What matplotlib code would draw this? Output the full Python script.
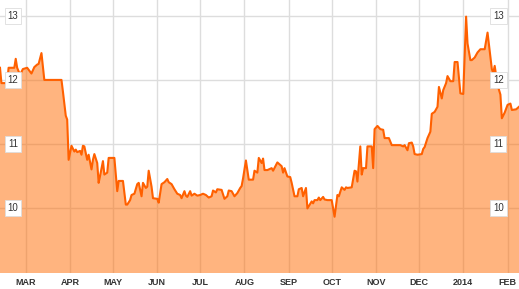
import matplotlib
matplotlib.use("Agg")
import matplotlib.pyplot as plt
import matplotlib.transforms as mtransforms
import pandas as pd

plt.rcParams["font.family"] = ["Liberation Sans", "DejaVu Sans"]

# price series
dates = [
    "2013-02-11", "2013-02-12", "2013-02-16", "2013-02-17", "2013-02-21", "2013-02-22",
    "2013-02-23", "2013-02-25", "2013-02-27", "2013-03-02", "2013-03-05", "2013-03-07",
    "2013-03-09", "2013-03-10", "2013-03-12", "2013-03-14", "2013-03-26", "2013-03-27",
    "2013-03-29", "2013-03-30", "2013-03-31", "2013-04-02", "2013-04-04", "2013-04-05",
    "2013-04-06", "2013-04-08", "2013-04-09", "2013-04-10", "2013-04-11", "2013-04-13",
    "2013-04-14", "2013-04-16", "2013-04-17", "2013-04-18", "2013-04-20", "2013-04-21",
    "2013-04-22", "2013-04-24", "2013-04-25", "2013-04-27", "2013-04-28", "2013-05-02",
    "2013-05-04", "2013-05-05", "2013-05-08", "2013-05-10", "2013-05-11", "2013-05-13",
    "2013-05-14", "2013-05-16", "2013-05-18", "2013-05-19", "2013-05-21", "2013-05-22",
    "2013-05-24", "2013-05-25", "2013-05-26", "2013-05-28", "2013-05-29", "2013-06-01",
    "2013-06-02", "2013-06-04", "2013-06-06", "2013-06-08", "2013-06-09", "2013-06-11",
    "2013-06-13", "2013-06-15", "2013-06-17", "2013-06-18", "2013-06-20", "2013-06-21",
    "2013-06-22", "2013-06-24", "2013-06-25", "2013-06-27", "2013-06-29", "2013-07-01",
    "2013-07-03", "2013-07-05", "2013-07-07", "2013-07-09", "2013-07-10", "2013-07-12",
    "2013-07-13", "2013-07-16", "2013-07-18", "2013-07-20", "2013-07-21", "2013-07-23",
    "2013-07-25", "2013-07-27", "2013-07-29", "2013-07-30", "2013-07-31", "2013-08-02",
    "2013-08-04", "2013-08-07", "2013-08-08", "2013-08-10", "2013-08-11", "2013-08-13",
    "2013-08-14", "2013-08-15", "2013-08-17", "2013-08-20", "2013-08-21", "2013-08-24",
    "2013-08-25", "2013-08-27", "2013-08-28", "2013-08-29", "2013-08-31", "2013-09-02",
    "2013-09-03", "2013-09-05", "2013-09-07", "2013-09-08", "2013-09-10", "2013-09-11",
    "2013-09-13", "2013-09-14", "2013-09-17", "2013-09-18", "2013-09-19", "2013-09-21",
    "2013-09-22", "2013-09-23", "2013-09-25", "2013-09-26", "2013-09-28", "2013-10-01",
    "2013-10-03", "2013-10-05", "2013-10-06", "2013-10-08", "2013-10-10", "2013-10-11",
    "2013-10-12", "2013-10-15", "2013-10-17", "2013-10-18", "2013-10-19", "2013-10-21",
    "2013-10-22", "2013-10-23", "2013-10-25", "2013-10-26", "2013-10-29", "2013-10-30",
    "2013-10-31", "2013-11-02", "2013-11-04", "2013-11-06", "2013-11-07", "2013-11-10",
    "2013-11-12", "2013-11-14", "2013-11-18", "2013-11-20", "2013-11-21", "2013-11-23",
    "2013-11-24", "2013-11-26", "2013-11-27", "2013-11-28", "2013-11-30", "2013-12-03",
    "2013-12-04", "2013-12-05", "2013-12-07", "2013-12-09", "2013-12-10", "2013-12-12",
    "2013-12-14", "2013-12-15", "2013-12-17", "2013-12-18", "2013-12-20", "2013-12-21",
    "2013-12-23", "2013-12-25", "2013-12-26", "2013-12-28", "2013-12-30", "2014-01-01",
    "2014-01-03", "2014-01-04", "2014-01-06", "2014-01-07", "2014-01-09", "2014-01-11",
    "2014-01-13", "2014-01-16", "2014-01-18", "2014-01-21", "2014-01-22", "2014-01-23",
    "2014-01-25", "2014-01-27", "2014-01-28", "2014-01-30", "2014-02-01", "2014-02-03",
    "2014-02-04", "2014-02-07", "2014-02-09",
]
prices = [
    12.19, 11.95, 11.95, 12.19, 12.19, 12.33,
    12.19, 12.08, 12.17, 12.19, 12.10, 12.20,
    12.24, 12.25, 12.42, 12.00, 12.00, 11.82,
    11.44, 11.38, 10.75, 10.97, 10.88, 10.91,
    10.87, 10.89, 10.83, 10.97, 10.96, 10.75,
    10.83, 10.60, 10.75, 10.84, 10.70, 10.39,
    10.50, 10.73, 10.52, 10.55, 10.78, 10.78,
    10.26, 10.42, 10.42, 10.05, 10.05, 10.12,
    10.20, 10.22, 10.37, 10.39, 10.18, 10.39,
    10.31, 10.33, 10.58, 10.33, 10.15, 10.14,
    10.08, 10.37, 10.40, 10.45, 10.40, 10.37,
    10.29, 10.22, 10.20, 10.15, 10.26, 10.19,
    10.17, 10.26, 10.19, 10.22, 10.19, 10.20,
    10.22, 10.20, 10.16, 10.18, 10.27, 10.24,
    10.29, 10.28, 10.14, 10.18, 10.27, 10.26,
    10.18, 10.23, 10.31, 10.34, 10.46, 10.74,
    10.44, 10.44, 10.58, 10.55, 10.78, 10.70,
    10.77, 10.59, 10.59, 10.62, 10.58, 10.71,
    10.69, 10.65, 10.55, 10.62, 10.49, 10.48,
    10.39, 10.18, 10.18, 10.29, 10.31, 10.18,
    10.31, 9.99, 10.10, 10.07, 10.12, 10.12,
    10.16, 10.12, 10.17, 10.13, 10.12, 10.12,
    9.86, 10.20, 10.18, 10.32, 10.28, 10.32,
    10.31, 10.32, 10.58, 10.57, 10.41, 10.96,
    10.52, 10.62, 10.62, 10.96, 10.96, 10.62,
    11.23, 11.28, 11.23, 11.22, 11.09, 11.09,
    10.98, 10.98, 10.98, 10.96, 10.98, 10.90,
    11.01, 11.02, 10.96, 10.84, 10.83, 10.84,
    10.92, 10.95, 11.09, 11.19, 11.47, 11.50,
    11.58, 11.89, 11.71, 11.84, 11.95, 12.06,
    11.98, 11.98, 12.28, 12.28, 11.79, 11.78,
    12.99, 12.57, 12.31, 12.31, 12.35, 12.43,
    12.48, 12.48, 12.74, 12.17, 12.11, 12.22,
    11.92, 11.77, 11.40, 11.49, 11.61, 11.63,
    11.53, 11.54, 11.58,
]

month_labels = ["MAR", "APR", "MAY", "JUN", "JUL", "AUG", "SEP",
                "OCT", "NOV", "DEC", "2014", "FEB"]
y_ticks = [10, 11, 12, 13]

x = pd.to_datetime(dates)
month_starts = pd.date_range("2013-03-01", "2014-02-01", freq="MS")

fig = plt.figure(figsize=(5.19, 2.89), dpi=100)
ax = fig.add_axes([0, 16 / 289, 1, 273 / 289])

bottom = 8.98
ax.fill_between(x, prices, bottom, color="#ff6a00", alpha=0.5, lw=0, zorder=2)
ax.plot(x, prices, color="#ff6000", lw=1.5, zorder=3)

ax.set_xlim(x[0], x[-1])
ax.set_ylim(bottom, 13.25)

ax.set_xticks(month_starts)
ax.set_xticklabels(month_labels, fontsize=6.5, fontweight="bold", color="#333333")
ax.tick_params(axis="x", length=0, pad=3.5)
ax.set_yticks(y_ticks)
ax.set_yticklabels([])
ax.tick_params(axis="y", length=0)
ax.grid(color="#dddddd", lw=1)
ax.set_axisbelow(True)

for side in ax.spines:
    ax.spines[side].set_visible(False)

# boxed value labels sitting inside the plot on both sides
trans = mtransforms.blended_transform_factory(ax.transAxes, ax.transData)
for v in y_ticks:
    for xf in (0.025, 0.96):
        ax.text(xf, v, str(v), transform=trans, ha="center", va="center",
                fontsize=7, color="#333333", zorder=5,
                bbox=dict(boxstyle="square,pad=0.3", fc="white", ec="#dddddd", lw=0.6))

fig.savefig("out.png", dpi=100)
